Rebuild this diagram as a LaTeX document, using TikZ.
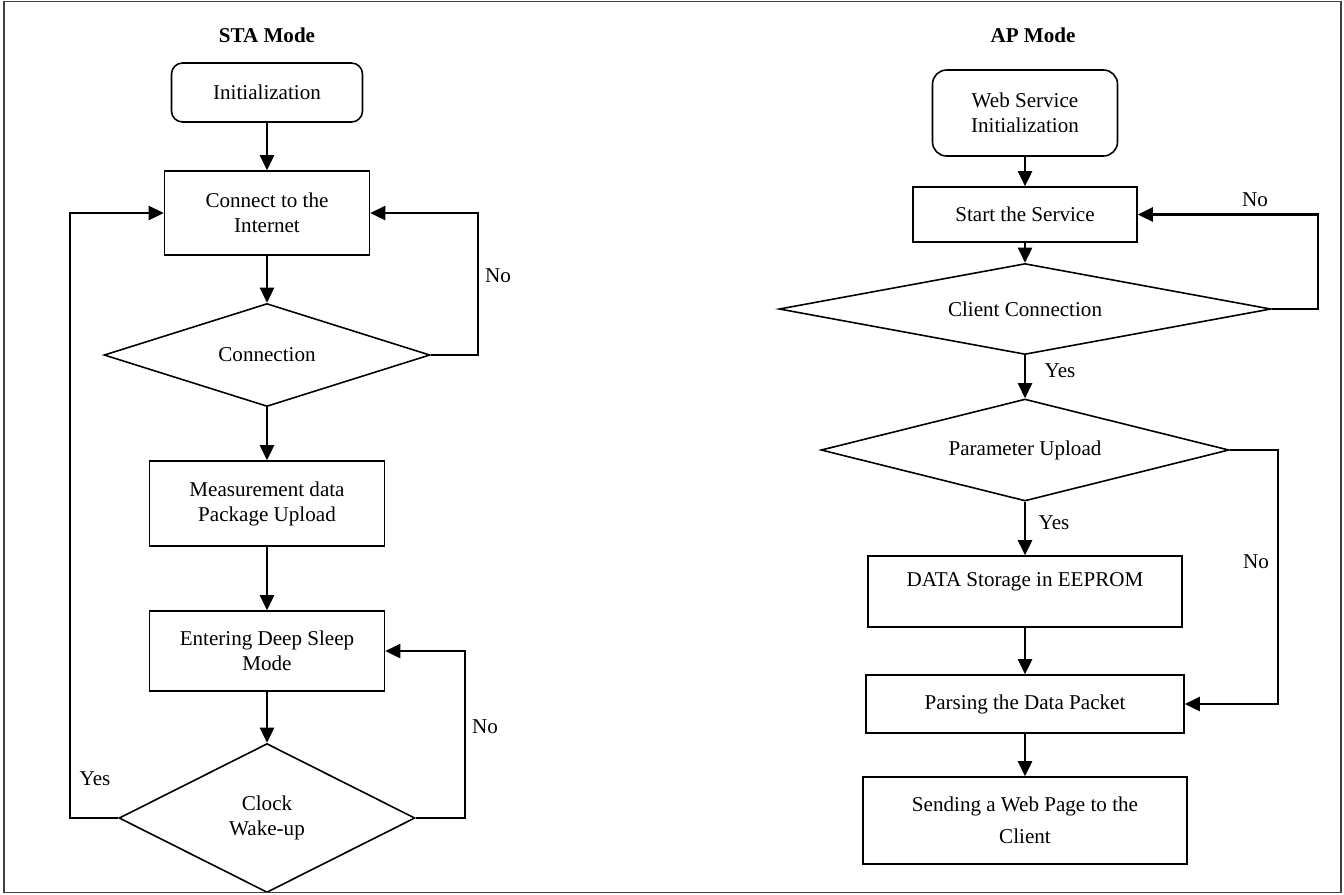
\documentclass[tikz,border=0pt]{standalone}
\usepackage{fontspec}
\setmainfont{Liberation Serif}
\usetikzlibrary{shapes.geometric,arrows.meta}
\pgfdeclarelayer{edgelayer}
\pgfdeclarelayer{nodelayer}
\pgfsetlayers{edgelayer,nodelayer,main}
\tikzstyle{none}=[inner sep=0pt]
\tikzstyle{heading}=[inner sep=0pt,font=\fontsize{12}{14.2}\selectfont\bfseries]
\tikzstyle{startbox}=[rectangle,rounded corners=0.22cm,draw=black,line width=0.9pt,align=center]
\tikzstyle{procbox}=[rectangle,draw=black,line width=0.9pt,align=center]
\tikzstyle{decision}=[diamond,draw=black,line width=0.9pt,align=center,inner sep=0pt]
\tikzstyle{inarrow}=[-{Triangle[length=0.3cm,width=0.28cm]},line width=1.4pt]
\tikzstyle{frame}=[draw=black!75,line width=0.6pt]

\begin{document}
\begin{tikzpicture}[x=0.02cm,y=-0.02cm,font=\fontsize{12}{14.2}\selectfont]
	\useasboundingbox (0,0) rectangle (1344,894);
	\draw [style=frame] (4,1.5) rectangle (1341,892.5);
	\begin{pgfonlayer}{nodelayer}
		% STA side
		\node [style=heading] (STA) at (267, 35) {STA Mode};
		\node [style=startbox, minimum width=3.82cm, minimum height=1.18cm] (Ini) at (267, 92.5) {Initialization};
		\node [style=procbox, minimum width=4.1cm, minimum height=1.68cm] (Net) at (267, 213) {Connect to the\\Internet};
		\node [style=decision, aspect=3.2, minimum width=6.52cm, minimum height=2.06cm] (Con) at (267, 355) {Connection};
		\node [style=procbox, minimum width=4.7cm, minimum height=1.7cm] (Up) at (267, 503.5) {Measurement data\\Package Upload};
		\node [style=procbox, minimum width=4.7cm, minimum height=1.6cm] (Sl) at (267, 651) {Entering Deep Sleep\\Mode};
		\node [style=decision, aspect=2, minimum width=5.92cm, minimum height=2.98cm] (Clk) at (267, 818) {Clock\\Wake-up};
		\node [style=none] (No1) at (498, 276) {No};
		\node [style=none] (No2) at (485, 727) {No};
		\node [style=none] (Yes1) at (95, 779) {Yes};
		\coordinate (Lft) at (70, 213);
		\coordinate (Rn) at (478, 213);
		\coordinate (Rs) at (465, 651);
		% AP side
		\node [style=heading] (AP) at (1033, 35) {AP Mode};
		\node [style=startbox, rounded corners=0.28cm, minimum width=3.7cm, minimum height=1.72cm] (Web) at (1025, 113) {Web Service\\Initialization};
		\node [style=procbox, minimum width=4.48cm, minimum height=1.1cm] (St) at (1025, 214.5) {Start the Service};
		\node [style=decision, aspect=5.4, minimum width=9.84cm, minimum height=1.82cm] (Cli) at (1025, 309) {Client Connection};
		\node [style=decision, aspect=4, minimum width=8.16cm, minimum height=2.04cm] (Par) at (1025, 450) {Parameter Upload};
		\node [style=procbox, minimum width=6.28cm, minimum height=1.42cm] (Sto) at (1025, 591.5) {DATA Storage in EEPROM\\\mbox{}};
		\node [style=procbox, minimum width=6.36cm, minimum height=1.16cm] (Pr) at (1025, 704) {Parsing the Data Packet};
		\node [style=procbox, minimum width=6.48cm, minimum height=1.74cm] (Snd) at (1025, 820.5) {Sending a Web Page to the\\[4pt]Client};
		\node [style=none] (No3) at (1255, 200) {No};
		\node [style=none] (Yes2) at (1060, 371) {Yes};
		\node [style=none] (Yes3) at (1054, 523) {Yes};
		\node [style=none] (No4) at (1256, 562) {No};
		\coordinate (Rc) at (1318, 214.5);
		\coordinate (Rp) at (1278, 704);
	\end{pgfonlayer}
	\begin{pgfonlayer}{edgelayer}
		\draw [style=inarrow] (Ini) -- (Net);
		\draw [style=inarrow] (Net) -- (Con);
		\draw [style=inarrow] (Con) -- (Up);
		\draw [style=inarrow] (Up) -- (Sl);
		\draw [style=inarrow] (Sl) -- (Clk);
		\draw [style=inarrow] (Con.east) -| (Rn) -- (Net.east);
		\draw [style=inarrow] (Clk.east) -| (Rs) -- (Sl.east);
		\draw [style=inarrow] (Clk.west) -| (Lft) -- (Net.west);
		\draw [style=inarrow] (Web) -- (St);
		\draw [style=inarrow] (St) -- (Cli);
		\draw [style=inarrow] (Cli) -- (Par);
		\draw [style=inarrow] (Par) -- (Sto);
		\draw [style=inarrow] (Sto) -- (Pr);
		\draw [style=inarrow] (Pr) -- (Snd);
		\draw [style=inarrow] (Cli.east) -| (Rc) -- (St.east);
		\draw [style=inarrow] (Par.east) -| (Rp) -- (Pr.east);
	\end{pgfonlayer}
\end{tikzpicture}
\end{document}
